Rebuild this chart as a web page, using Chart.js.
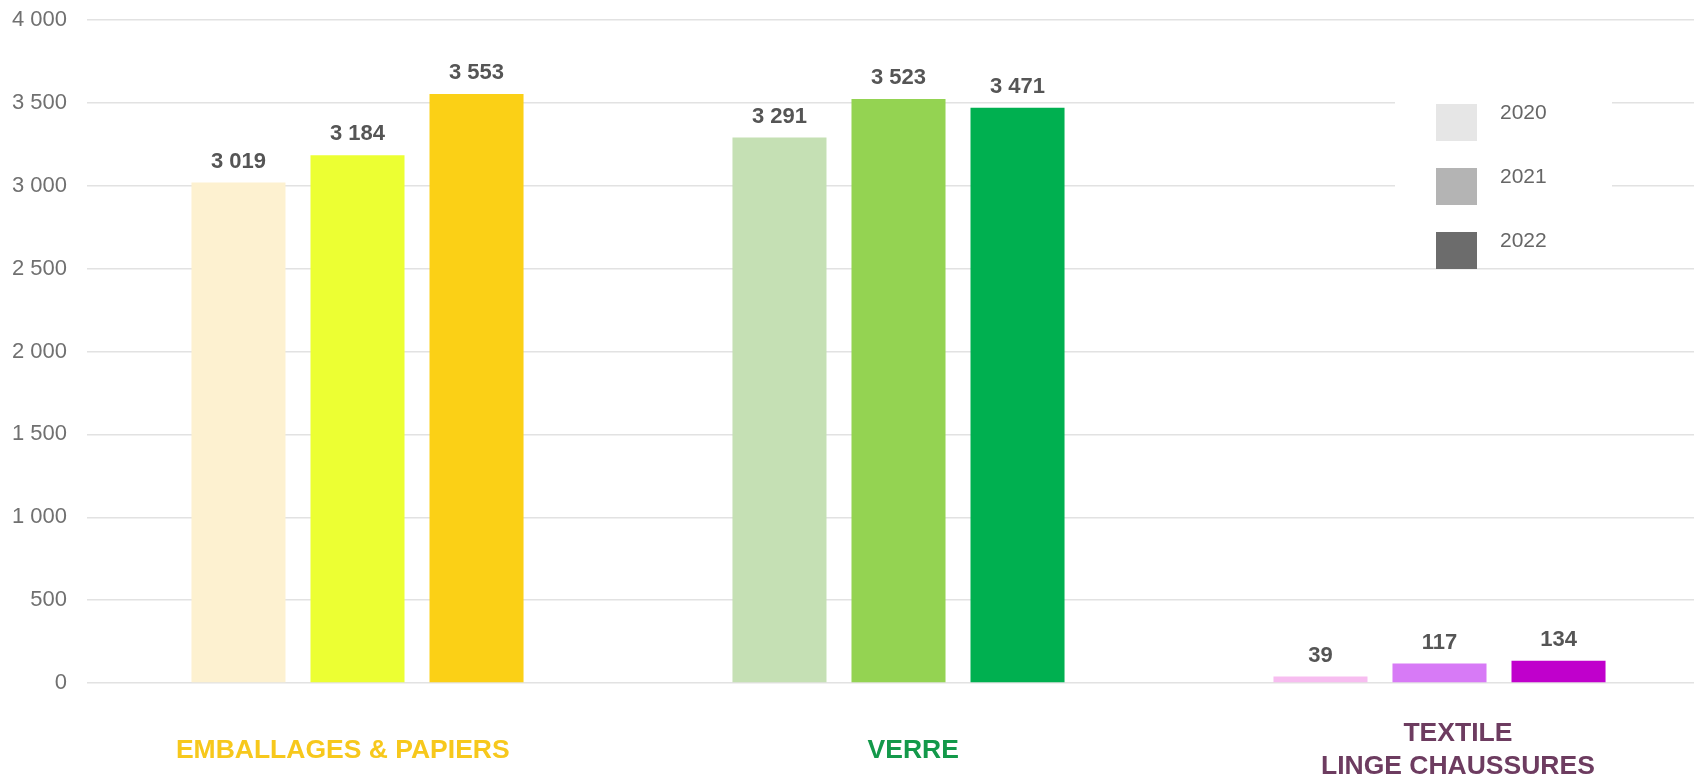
<!DOCTYPE html>
<html>
<head>
<meta charset="utf-8">
<script src="https://cdn.jsdelivr.net/npm/chart.js@4"></script>
<style>
  html, body { margin: 0; padding: 0; background: #fff; overflow: hidden; }
  #wrap { width: 1710px; height: 778px; }
</style>
</head>
<body>
<div id="wrap"><canvas id="chart" width="1710" height="778"></canvas></div>
<script>
// Data (spaces nudge the labels off-centre like the original)
const categories = ['EMBALLAGES & PAPIERS    ', '    VERRE', ['     TEXTILE', '     LINGE CHAUSSURES']];
const years = ['2020', '2021', '2022'];
const values2020 = [3019, 3291, 39];
const values2021 = [3184, 3523, 117];
const values2022 = [3553, 3471, 134];
const yTicks = [0, 500, 1000, 1500, 2000, 2500, 3000, 3500, 4000];

// Colours
const colors2020 = ['#fdf1d0', '#c5e0b4', '#f7bdf0'];
const colors2021 = ['#ecff33', '#94d352', '#d77af6'];
const colors2022 = ['#fbd016', '#00b050', '#c000cc'];
const legendColors = ['#e6e6e6', '#b4b4b4', '#6c6c6c'];
const categoryColors = ['#f7c81c', '#13994a', '#6d3c60'];

const FONT = "'Liberation Sans', Arial, sans-serif";

const fmt = v => String(v).replace(/\B(?=(\d{3})+(?!\d))/g, ' ');

// value labels above each bar
const valueLabels = {
    id: 'valueLabels',
    afterDatasetsDraw(chart) {
        const ctx = chart.ctx;
        ctx.save();
        ctx.font = 'bold 22px ' + FONT;
        ctx.fillStyle = '#555555';
        ctx.textAlign = 'center';
        ctx.textBaseline = 'alphabetic';
        chart.data.datasets.forEach((ds, i) => {
            chart.getDatasetMeta(i).data.forEach((bar, j) => {
                ctx.fillText(fmt(ds.data[j]), bar.x, bar.y - 15);
            });
        });
        ctx.restore();
    }
};

// legend box on the right, over the gridlines
const sideLegend = {
    id: 'sideLegend',
    afterDraw(chart) {
        const ctx = chart.ctx;
        ctx.save();
        ctx.fillStyle = '#ffffff';
        ctx.fillRect(1395, 90, 217, 172);
        ctx.font = '21px ' + FONT;
        ctx.textAlign = 'left';
        ctx.textBaseline = 'alphabetic';
        chart.data.datasets.forEach((ds, i) => {
            const top = 104 + i * 64;
            ctx.fillStyle = ds.legendColor;
            ctx.fillRect(1436, top, 41, 37);
            ctx.fillStyle = '#666666';
            ctx.fillText(ds.label, 1500, top + 15);
        });
        ctx.restore();
    }
};

new Chart(document.getElementById('chart'), {
    type: 'bar',
    data: {
        labels: categories,
        datasets: [
            { label: years[0], data: values2020, backgroundColor: colors2020, legendColor: legendColors[0] },
            { label: years[1], data: values2021, backgroundColor: colors2021, legendColor: legendColors[1] },
            { label: years[2], data: values2022, backgroundColor: colors2022, legendColor: legendColors[2] }
        ]
    },
    options: {
        responsive: false,
        animation: false,
        devicePixelRatio: 1,
        layout: { padding: { top: 20, left: 0, right: 0, bottom: 0 } },
        datasets: {
            bar: { categoryPercentage: 0.66, barPercentage: 0.79 }
        },
        plugins: {
            legend: { display: false },
            tooltip: { enabled: false }
        },
        scales: {
            x: {
                grid: { display: false, drawTicks: false },
                border: { display: false },
                ticks: {
                    font: { family: FONT, size: 26.5, weight: 'bold', lineHeight: 1.25 },
                    color: ctx => categoryColors[ctx.index],
                    crossAlign: 'center',
                    padding: 51,
                    maxRotation: 0,
                    autoSkip: false
                },
                afterFit: scale => { scale.height = 95; }
            },
            y: {
                min: 0,
                max: 4000,
                afterBuildTicks: scale => { scale.ticks = yTicks.map(v => ({ value: v })); },
                grid: { color: '#e2e2e2', lineWidth: 1.5, drawTicks: false },
                border: { display: false },
                ticks: {
                    font: { family: FONT, size: 22 },
                    color: '#707070',
                    padding: 20,
                    callback: v => fmt(v)
                },
                afterFit: scale => {
                    scale.width = 87;
                    scale.paddingTop = 0;
                    scale.paddingBottom = 0;
                }
            }
        }
    },
    plugins: [valueLabels, sideLegend]
});
</script>
</body>
</html>
